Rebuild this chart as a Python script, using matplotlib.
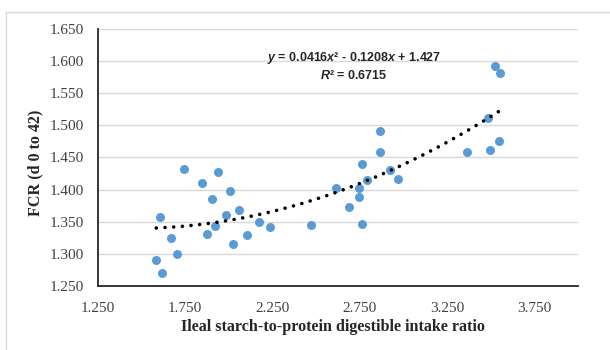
import matplotlib.pyplot as plt
import numpy as np
from matplotlib.patches import Rectangle

# Ileal starch-to-protein digestible intake ratio vs FCR (d 0 to 42)
ratio = [1.746, 1.937, 1.849, 2.009, 1.904, 1.607, 1.986, 2.059, 1.922,
         1.876, 2.175, 2.238, 1.670, 2.106, 2.025, 1.704, 1.586, 1.620,
         2.469, 2.616, 2.692, 2.749, 2.749, 2.761, 2.763, 2.793, 2.867,
         2.867, 2.923, 2.967, 3.527, 3.556, 3.485, 3.548, 3.363, 3.495]
fcr = [1.432, 1.427, 1.410, 1.398, 1.385, 1.357, 1.361, 1.368, 1.343,
       1.331, 1.349, 1.342, 1.324, 1.329, 1.315, 1.299, 1.290, 1.270,
       1.345, 1.403, 1.373, 1.402, 1.389, 1.347, 1.440, 1.415, 1.491,
       1.459, 1.431, 1.416, 1.593, 1.582, 1.512, 1.476, 1.459, 1.461]

# polynomial trendline coefficients as printed on the chart
trend_coef = [0.0416, -0.1208, 1.427]
trend_label = "$\\bfit{y}$ = 0.0416$\\bfit{x}$² - 0.1208$\\bfit{x}$ + 1.427\n$\\bfit{R}$² = 0.6715"

x_ticks = [1.25, 1.75, 2.25, 2.75, 3.25, 3.75]
y_ticks = [1.25, 1.30, 1.35, 1.40, 1.45, 1.50, 1.55, 1.60, 1.65]

plt.rcParams["mathtext.fontset"] = "custom"
plt.rcParams["mathtext.bfit"] = "Liberation Sans:bold:italic"

fig = plt.figure(figsize=(6.1, 3.5), dpi=100)
ax = fig.add_axes([0.160, 0.1837, 0.7875, 0.7326])

# light chart border (Excel chart area)
fig.patches.append(Rectangle((6 / 610, -0.1), 1.2, 1.1 - 12 / 350,
                             transform=fig.transFigure, fill=False,
                             edgecolor="#D9D9D9", linewidth=1.0))

ax.scatter(ratio, fcr, s=42, color="#5B9BD5", zorder=3, linewidths=0)

xs = np.linspace(min(ratio), max(ratio), 200)
ax.plot(xs, np.polyval(trend_coef, xs), color="black", linewidth=2.6,
        linestyle=(0, (0.01, 2.4)), dash_capstyle="round", zorder=4)

ax.text(2.717, 1.593, trend_label, ha="center", va="center", fontsize=9.0,
        fontweight="bold", family="Liberation Sans", color="#262626",
        linespacing=1.25, multialignment="center")

ax.set_xlim(1.25, 4.0)
ax.set_ylim(1.25, 1.65)
ax.set_xticks(x_ticks)
ax.set_yticks(y_ticks)
ax.set_xticklabels([f"{v:.3f}" for v in x_ticks])
ax.set_yticklabels([f"{v:.3f}" for v in y_ticks])
ax.tick_params(length=0, labelsize=11, colors="#404040")
ax.tick_params(axis="y", pad=10)
ax.tick_params(axis="x", pad=12)
for lab in ax.get_xticklabels() + ax.get_yticklabels():
    lab.set_family("Liberation Serif")

ax.grid(axis="y", color="#D9D9D9", linewidth=1.0)
ax.set_axisbelow(True)
for side in ["top", "right"]:
    ax.spines[side].set_visible(False)
for side in ["left", "bottom"]:
    ax.spines[side].set_color("#262626")
    ax.spines[side].set_linewidth(1.3)

ax.set_xlabel("Ileal starch-to-protein digestible intake ratio", family="Liberation Serif",
              fontweight="bold", fontsize=11.6, color="#262626")
ax.set_ylabel("FCR (d 0 to 42)", family="Liberation Serif", fontweight="bold",
              fontsize=11.6, color="#262626")
ax.xaxis.set_label_coords(0.49, -0.13)
ax.yaxis.set_label_coords(-0.113, 0.48)

fig.savefig("out.png", dpi=100)
